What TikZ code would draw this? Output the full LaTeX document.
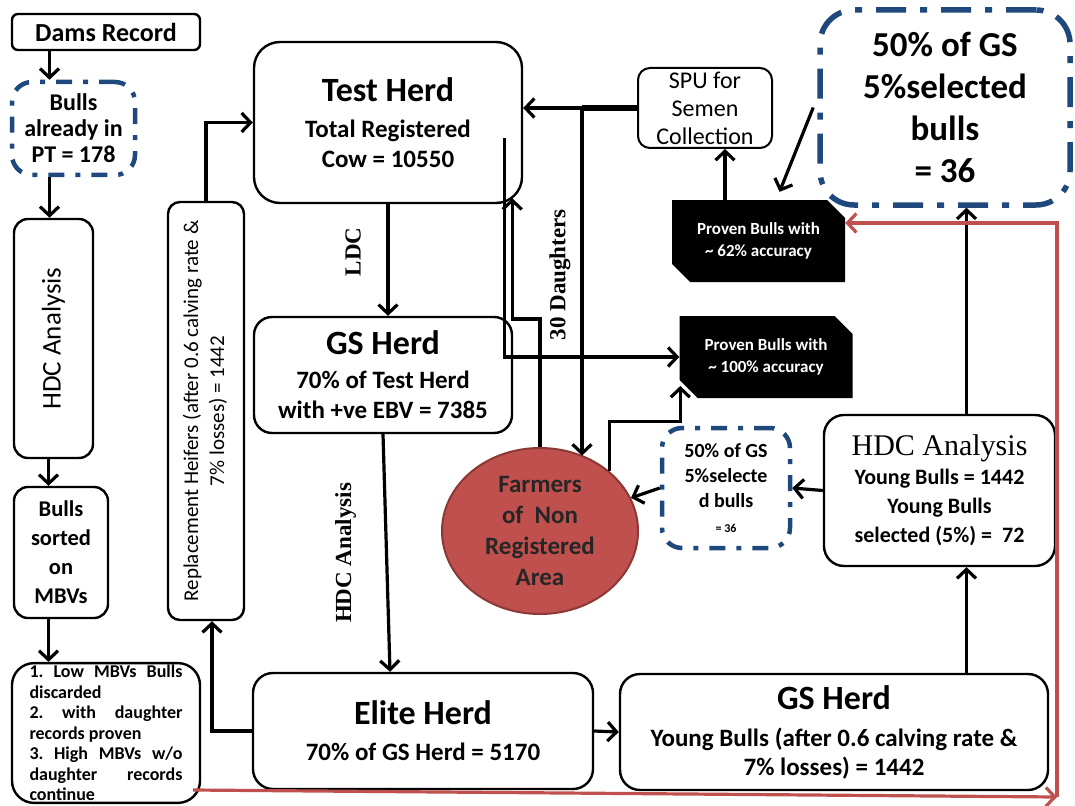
\documentclass[tikz,border=0pt]{standalone}
\usepackage{fontspec}
\setmainfont{Carlito}
\newfontfamily\tnr{Liberation Serif}
\usetikzlibrary{arrows.meta,shapes.geometric,shapes.misc}
\newcommand\fsz[2]{\fontsize{#1}{#2}\selectfont}
\definecolor{dashblue}{HTML}{1F497D}
\definecolor{farmred}{HTML}{C0504D}
\definecolor{farmedge}{HTML}{8C3836}

\begin{document}
\begin{tikzpicture}[x=1pt,y=-1pt,
   box/.style={draw,line width=2.4pt,rounded corners=#1,fill=white,align=center,inner sep=2pt},
   box/.default=10pt,
   dashbox/.style={draw=dashblue,line width=4.5pt,rounded corners=20pt,align=center,inner sep=0pt},
   smalldash/.style={dash pattern=on 16pt off 11pt on 5pt off 11pt},
   bigdash/.style={line width=5.5pt,rounded corners=34pt,dash pattern=on 30pt off 14pt on 7pt off 14pt},
   blackbox/.style={chamfered rectangle,chamfered rectangle corners={north east,south west},
      chamfered rectangle xsep=9pt,chamfered rectangle ysep=9pt,fill=black,text=white,
      font=\bfseries\fsz{17}{22},align=center,inner sep=0pt,minimum width=173pt,minimum height=82pt},
   arr/.style={line width=3.2pt,-{Straight Barb[length=9pt,width=19pt]}},
   redarr/.style={draw=farmred,line width=3.2pt,-{Straight Barb[length=9pt,width=19pt]}},
   lbl/.style={font=\tnr\bfseries\fsz{23}{26},inner sep=0pt}]
   \useasboundingbox (0,0) rectangle (1075,805);

   % left column
   \node[box=6pt,minimum width=188pt,minimum height=36pt,font=\bfseries\fsz{26}{30}] (dams) at (106,32) {Dams Record};
   \node[dashbox,smalldash,minimum width=123pt,minimum height=93pt,font=\bfseries\fsz{24}{26}] (bullspt) at (73.5,128.5) {Bulls\\already in\\PT = 178};
   \node[box=14pt,minimum width=79pt,minimum height=239pt,font=\fsz{27}{30}] (hdcv) at (53.5,338.5) {\rotatebox{90}{HDC Analysis}};
   \node[box=14pt,minimum width=94pt,minimum height=131pt,font=\bfseries\fsz{22.5}{29}] (sorted) at (61,552.5) {Bulls\\sorted\\on\\MBVs};
   \node[box=22pt,text width=153pt,inner xsep=17.5pt,inner ysep=2pt,align=justify,font=\bfseries\frenchspacing\fsz{18}{20.5}] (mbvlist) at (106,733)
      {1. Low MBVs Bulls discarded\\2. with daughter records proven\\3. High MBVs w/o daughter records continue};
   \node[box=12pt,minimum width=76pt,minimum height=418pt,font=\fsz{21}{26}] (repl) at (206,411)
      {\rotatebox{90}{\begin{tabular}{@{}c@{}}Replacement Heifers (after 0.6 calving rate \&\\7\% losses) = 1442\end{tabular}}};

   % herds
   \node[box=26pt,minimum width=268pt,minimum height=161pt,font=\bfseries\fsz{25}{30}] (testherd) at (388,122.5)
      {{\fsz{34}{38}Test Herd}\\[6pt]Total Registered\\Cow = 10550};
   \node[box=18pt,minimum width=258pt,minimum height=116pt,font=\bfseries\fsz{25}{30}] (gsherd) at (383,375)
      {{\fsz{34}{38}GS Herd}\\[4pt]70\% of Test Herd\\with +ve EBV = 7385};
   \node[box=20pt,minimum width=340pt,minimum height=116pt,font=\bfseries\fsz{25}{30}] (elite) at (423,731)
      {{\fsz{34}{38}Elite Herd}\\[6pt]70\% of GS Herd = 5170};
   \node[box=20pt,minimum width=428pt,minimum height=116pt,font=\bfseries\fsz{25}{29}] (gsyoung) at (834,732)
      {{\fsz{34}{38}GS Herd}\\[8pt]Young Bulls (after 0.6 calving rate \&\\7\% losses) = 1442};
   \node[box=20pt,minimum width=231pt,minimum height=151pt,font=\bfseries\fsz{22}{29}] (hdcr) at (939.5,490.5)
      {{\tnr\mdseries\fsz{30}{32}HDC Analysis}\\Young Bulls = 1442\\Young Bulls\\selected (5\%) =~ 72};

   % selection and farmers
   \node[dashbox,smalldash,minimum width=128pt,minimum height=120pt,font=\bfseries\fsz{20}{25}] (small50) at (726,488)
      {50\% of GS\\5\%selecte\\d bulls\\{\fsz{12}{15}= 36}};
   \node[ellipse,draw=farmedge,line width=2pt,fill=farmred,minimum width=196pt,minimum height=166pt,inner sep=0pt,
      font=\bfseries\fsz{25}{31},text=black!85,align=center] (farmers) at (540,531) {Farmers\\of~ Non\\Registered\\Area};
   \node[box=12pt,line width=2pt,minimum width=134pt,minimum height=80pt,inner sep=0pt,font=\fsz{24}{28}] (spu) at (705,108)
      {SPU for\\Semen\\Collection};
   \node[dashbox,bigdash,minimum width=250pt,minimum height=195pt,font=\bfseries\fsz{35}{41.7}] (big50) at (945,107.5)
      {50\% of GS\\5\%selected\\bulls\\= 36};
   \node[blackbox] (p62) at (758.5,241) {Proven Bulls with\\\textasciitilde\ 62\% accuracy};
   \node[blackbox] (p100) at (766,357) {Proven Bulls with\\\textasciitilde\ 100\% accuracy};

   % helper points
   \coordinate (hx) at ([xshift=27]hdcr.south);
   \coordinate (sx) at ([xshift=20]spu.south);
   \coordinate (dj) at ([xshift=-55]spu.west);
   \coordinate (tx) at ([xshift=-19,yshift=-15.5]testherd.east);
   \coordinate (rs) at (193,790);
   \coordinate (rc) at (1057,797);

   % left column arrows
   \draw[arr] ([xshift=-24]bullspt.north |- dams.south) -- ([xshift=-24]bullspt.north);
   \draw[arr] ([xshift=-4]hdcv.north |- bullspt.south) -- ([xshift=-4]hdcv.north);
   \draw[arr] ([xshift=-5]hdcv.south) -- ([xshift=-5]hdcv.south |- sorted.north);
   \draw[arr] ([xshift=-5]hdcv.south |- sorted.south) -- ([xshift=-5]hdcv.south |- mbvlist.north);
   \draw[arr] (elite.west) -| ([xshift=6]repl.south);
   \draw[arr] (repl.north) |- (testherd.west);

   % herd arrows
   \draw[arr] (testherd.south) -- (testherd.south |- gsherd.north)
      node[midway,xshift=-35,yshift=8,rotate=90,lbl] {LDC};
   \draw[arr] (gsherd.south) -- ([xshift=-33]elite.north)
      node[midway,xshift=-41,rotate=90,lbl] {HDC Analysis};
   \draw[arr] (elite.east) -- (gsyoung.west);
   \draw[arr] (hx |- gsyoung.north) -- (hx);
   \draw[arr] (hx |- hdcr.north) -- (hx |- big50.south);
   \draw[arr] (hdcr.west) -- (small50.east);
   \draw[arr] (small50.west) -- (farmers.20);

   % semen and proven bulls
   \draw[arr] (sx |- p62.north) -- (sx);
   \draw[arr] ([xshift=-4]big50.west) -- ([xshift=21,yshift=8]p62.north);
   \draw[arr] (spu.west) -- (spu.west -| testherd.east);
   \draw[line width=6pt] (spu.west) -- (dj);
   \draw[arr] (dj) -- (dj |- farmers.60)
      node[pos=.48,xshift=-22,rotate=90,lbl] {30 Daughters};
   \draw[arr] (tx) |- (p100.west);
   \draw[arr] (farmers.north) -- ++(0,-128) -| ([xshift=-11,yshift=6]testherd.south east);
   \draw[arr] (farmers.41) -- ++(0,-49) -| ([xshift=1,yshift=-29]p100.west);

   % red feedback
   \draw[redarr] (rs) -- (rc);
   \draw[redarr] (rc) |- ([yshift=18]p62.east);
\end{tikzpicture}
\end{document}
